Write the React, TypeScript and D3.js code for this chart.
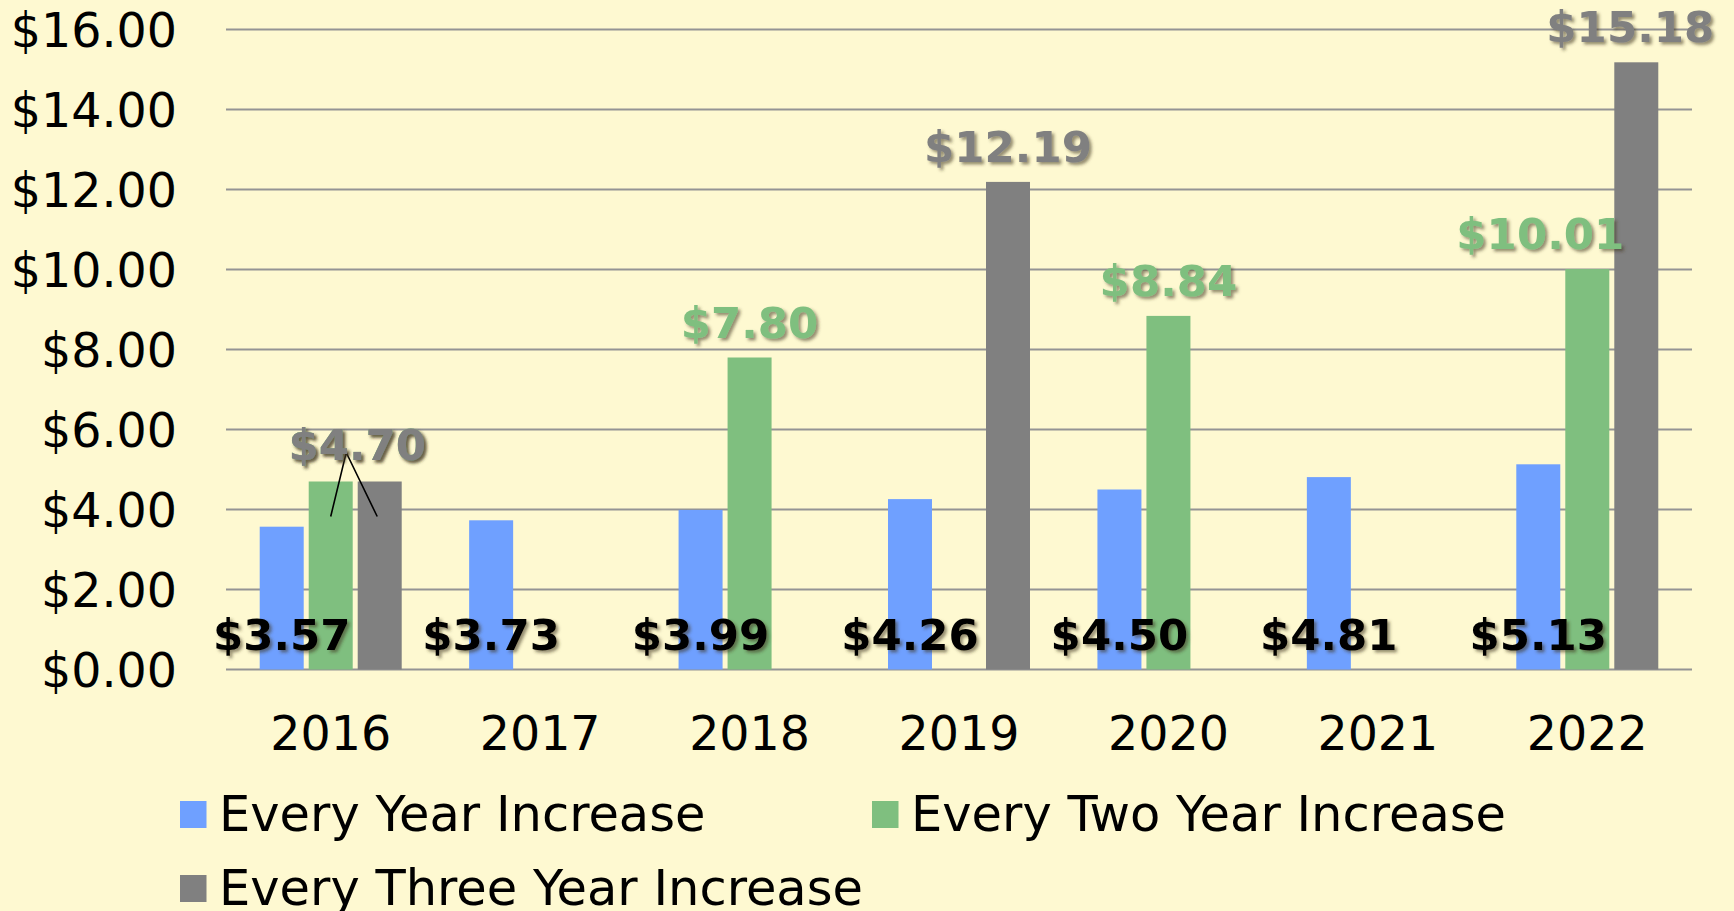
import React from "react";
import * as d3 from "d3";

const years = ["2016", "2017", "2018", "2019", "2020", "2021", "2022"];
const seriesNames = ["Every Year Increase", "Every Two Year Increase", "Every Three Year Increase"];
const everyYear = [3.57, 3.73, 3.99, 4.26, 4.5, 4.81, 5.13];
const everyTwoYear: (number | null)[] = [4.7, null, 7.8, null, 8.84, null, 10.01];
const everyThreeYear: (number | null)[] = [4.7, null, null, 12.19, null, null, 15.18];
const yTicks = [0, 2, 4, 6, 8, 10, 12, 14, 16];

const seriesValues = [everyYear, everyTwoYear, everyThreeYear];
const colors = ["#6FA0FF", "#7FBF7F", "#808080"];
const labelColors = ["#000000", "#7FBF7F", "#808080"];

const W = 1734;
const H = 911;
const BG = "#FEF9D1";
const FONT = "'DejaVu Sans', Verdana, sans-serif";

export default function App() {
  const x0 = d3.scaleBand<string>().domain(years).range([226, 1692]).paddingInner(0).paddingOuter(0);
  const x1 = d3
    .scaleBand<string>()
    .domain(seriesNames)
    .range([0, x0.bandwidth()])
    .paddingInner(0.102)
    .paddingOuter(0.688);
  const y = d3.scaleLinear().domain([0, 16]).range([669.5, 29.5]);
  const fmt = (v: number) => "$" + d3.format(".2f")(v);

  const bars: any[] = [];
  const labels: any[] = [];
  const leaders: any[] = [];

  seriesNames.forEach((s, si) => {
    seriesValues[si].forEach((v, i) => {
      if (v == null) return;
      const bx = (x0(years[i]) as number) + (x1(s) as number);
      const bw = x1.bandwidth();
      const top = y(v);
      bars.push(
        <rect key={`b-${si}-${i}`} x={bx} y={top} width={bw} height={y(0) - top} fill={colors[si]} />
      );
      const cx = bx + bw / 2;
      let lx = cx;
      let ly = top - 20;
      if (si === 0) {
        ly = y(0) - 20;
      }
      // overlapping labels for the 2016 pair: moved between bars with leader lines
      if (i === 0 && si > 0) {
        const gx = (x0(years[0]) as number) + (x1(seriesNames[1]) as number) + bw / 2;
        const rx = (x0(years[0]) as number) + (x1(seriesNames[2]) as number) + bw / 2;
        lx = (gx + rx) / 2 + 2;
        ly = top - 22;
        if (si === 2) {
          leaders.push(
            <path
              key="leader"
              d={`M${gx},${top + 35} L${lx - 11},${ly - 7} L${rx - 2.5},${top + 35}`}
              fill="none"
              stroke="#000"
              strokeWidth={1.6}
            />
          );
        }
      }
      if (i === 6 && si === 1) lx = cx - 47;
      if (i === 6 && si === 2) lx = cx - 6;
      labels.push(
        <text
          key={`l-${si}-${i}`}
          x={lx}
          y={ly}
          textAnchor="middle"
          fontFamily={FONT}
          fontWeight="bold"
          fontSize={43.5}
          fill={labelColors[si]}
          filter="url(#shadow)"
        >
          {fmt(v)}
        </text>
      );
    });
  });

  const legendItems = [
    { name: seriesNames[0], x: 180, y: 801 },
    { name: seriesNames[1], x: 872, y: 801 },
    { name: seriesNames[2], x: 180, y: 875 },
  ];

  return (
    <div style={{ position: "absolute", left: 0, top: 0 }}>
      <svg width={W} height={H} style={{ display: "block" }}>
        <defs>
          <filter id="shadow" x="-20%" y="-30%" width="140%" height="160%">
            <feDropShadow dx={2.5} dy={2.5} stdDeviation={1.6} floodColor="#3d3820" floodOpacity={0.55} />
          </filter>
        </defs>
        <rect x={0} y={0} width={W} height={H} fill={BG} />
        {yTicks.map((t) => (
          <g key={`g-${t}`}>
            <line x1={226} x2={1692} y1={y(t)} y2={y(t)} stroke="#949494" strokeWidth={1.8} />
            <text
              x={177}
              y={y(t)}
              dy="0.36em"
              textAnchor="end"
              fontFamily={FONT}
              fontSize={47.5}
              fill="#000"
            >
              {fmt(t)}
            </text>
          </g>
        ))}
        {bars}
        {leaders}
        {labels}
        {years.map((yr) => (
          <text
            key={`x-${yr}`}
            x={(x0(yr) as number) + x0.bandwidth() / 2}
            y={750}
            textAnchor="middle"
            fontFamily={FONT}
            fontSize={47.5}
            fill="#000"
          >
            {yr}
          </text>
        ))}
        {legendItems.map((it, k) => (
          <g key={`lg-${k}`}>
            <rect x={it.x} y={it.y} width={26.5} height={27} fill={colors[k]} />
            <text x={it.x + 39} y={it.y + 30} fontFamily={FONT} fontSize={49.5} fill="#000">
              {it.name}
            </text>
          </g>
        ))}
      </svg>
    </div>
  );
}
